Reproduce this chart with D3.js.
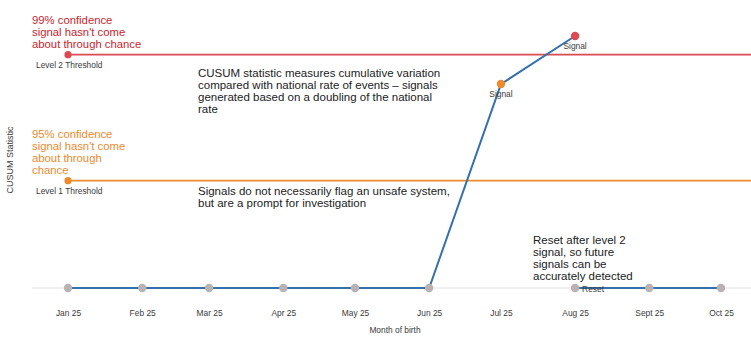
<!DOCTYPE html>
<html>
<head>
<meta charset="utf-8">
<script src="https://cdn.jsdelivr.net/npm/d3@7"></script>
<style>
  html, body { margin: 0; padding: 0; background: #fff; }
  svg { display: block; font-family: "Liberation Sans", Arial, sans-serif; }
</style>
</head>
<body>
<svg id="chart" width="751" height="343"></svg>
<script>
// Monthly CUSUM values by month of birth
const months = ["2025-01-01","2025-02-01","2025-03-01","2025-04-01","2025-05-01","2025-06-01","2025-07-01","2025-08-01"];
const cusumValues = [0, 0, 0, 0, 0, 0, 4.37, 5.4];
const signalLevels = [null, null, null, null, null, null, 1, 2];

// After the level 2 signal the statistic is reset to zero
const resetMonths = ["2025-08-01","2025-09-01","2025-10-01"];
const resetValues = [0, 0, 0];

const tickMonths = ["2025-01-01","2025-02-01","2025-03-01","2025-04-01","2025-05-01","2025-06-01","2025-07-01","2025-08-01","2025-09-01","2025-10-01"];
const tickLabels = ["Jan 25","Feb 25","Mar 25","Apr 25","May 25","Jun 25","Jul 25","Aug 25","Sept 25","Oct 25"];

const level1Threshold = 2.3;
const level2Threshold = 5.0;

const level2Text = ["99% confidence", "signal hasn't come", "about through chance"];
const level1Text = ["95% confidence", "signal hasn't come", "about through", "chance"];
const noteCusum = ["CUSUM statistic measures cumulative variation", "compared with national rate of events \u2013 signals", "generated based on a doubling of the national", "rate"];
const noteSignals = ["Signals do not necessarily flag an unsafe system,", "but are a prompt for investigation"];
const noteReset = ["Reset after level 2", "signal, so future", "signals can be", "accurately detected"];

const parse = d3.timeParse("%Y-%m-%d");
const svg = d3.select("#chart");

const x = d3.scaleTime()
  .domain([parse("2025-01-01"), parse("2025-10-01")])
  .range([68, 721]);
const y = d3.scaleLinear().domain([0, 5.7]).range([288, 22]);

const colRed = "#dc4a52", colOrange = "#ee8a2c", colBlue = "#3570ad", colGrey = "#b9b2b2";

// zero line
svg.append("line")
  .attr("x1", 32).attr("x2", 751)
  .attr("y1", y(0)).attr("y2", y(0))
  .attr("stroke", "#e2e2e2").attr("stroke-width", 1);

// threshold lines with start markers
const thresholds = [
  {v: level2Threshold, c: colRed, label: "Level 2 Threshold", text: level2Text, tc: "#c8252e"},
  {v: level1Threshold, c: colOrange, label: "Level 1 Threshold", text: level1Text, tc: "#ec8a2e"}
];
thresholds.forEach(t => {
  const yy = y(t.v);
  svg.append("line")
    .attr("x1", x(parse(months[0]))).attr("x2", 751)
    .attr("y1", yy).attr("y2", yy)
    .attr("stroke", t.c).attr("stroke-width", 1.6);
  svg.append("circle")
    .attr("cx", x(parse(months[0]))).attr("cy", yy).attr("r", 3.6)
    .attr("fill", t.c);
  svg.append("text")
    .attr("x", 36).attr("y", yy + 13)
    .attr("font-size", 8.4).attr("fill", "#3a3a3a")
    .text(t.label);
  const n = t.text.length;
  svg.append("g").selectAll("text").data(t.text).join("text")
    .attr("x", 32)
    .attr("y", (d, i) => yy - 6.5 - (n - 1 - i) * 12.2)
    .attr("font-size", 11.3).attr("fill", t.tc)
    .text(d => d);
});

// CUSUM line
const line = d3.line().x(d => x(d.date)).y(d => y(d.value));
const mainData = months.map((m, i) => ({date: parse(m), value: cusumValues[i], level: signalLevels[i]}));
const resetData = resetMonths.map((m, i) => ({date: parse(m), value: resetValues[i]}));

svg.append("path").datum(mainData)
  .attr("d", line).attr("fill", "none")
  .attr("stroke", colBlue).attr("stroke-width", 2);
svg.append("path").datum(resetData)
  .attr("d", line).attr("fill", "none")
  .attr("stroke", colBlue).attr("stroke-width", 2);

const pts = mainData.concat(resetData);
svg.append("g").selectAll("circle").data(pts).join("circle")
  .attr("cx", d => x(d.date)).attr("cy", d => y(d.value))
  .attr("r", 4.2)
  .attr("fill", d => d.level === 2 ? colRed : d.level === 1 ? colOrange : colGrey);

// point labels
svg.append("g").selectAll("text").data(mainData.filter(d => d.level)).join("text")
  .attr("x", d => x(d.date)).attr("y", d => y(d.value) + 13)
  .attr("text-anchor", "middle")
  .attr("font-size", 8.4).attr("fill", "#3a3a3a")
  .text("Signal");
svg.append("text")
  .attr("x", x(resetData[0].date) + 7).attr("y", y(resetData[0].value) + 3.5)
  .attr("font-size", 8.4).attr("fill", "#3a3a3a")
  .text("Reset");

// x axis
const xAxis = d3.axisBottom(x)
  .tickValues(tickMonths.map(parse))
  .tickFormat((d, i) => tickLabels[i])
  .tickSize(0).tickPadding(0);
const gx = svg.append("g").attr("transform", "translate(0,316)").call(xAxis);
gx.select(".domain").remove();
gx.selectAll("text")
  .attr("font-family", "Liberation Sans, Arial, sans-serif")
  .attr("font-size", 8.4).attr("fill", "#3a3a3a").attr("dy", 0);

svg.append("text")
  .attr("x", 395).attr("y", 333)
  .attr("text-anchor", "middle")
  .attr("font-size", 8.4).attr("fill", "#3a3a3a")
  .text("Month of birth");

svg.append("text")
  .attr("transform", "translate(13,160) rotate(-90)")
  .attr("text-anchor", "middle")
  .attr("font-size", 9).attr("fill", "#3a3a3a")
  .text("CUSUM Statistic");

// annotations
function note(lines, x0, y0) {
  svg.append("g").selectAll("text").data(lines).join("text")
    .attr("x", x0).attr("y", (d, i) => y0 + i * 12.1)
    .attr("font-size", 11.5).attr("fill", "#222")
    .text(d => d);
}
note(noteCusum, 198, 76.5);
note(noteSignals, 198, 194.5);
note(noteReset, 533, 243.5);
</script>
</body>
</html>
